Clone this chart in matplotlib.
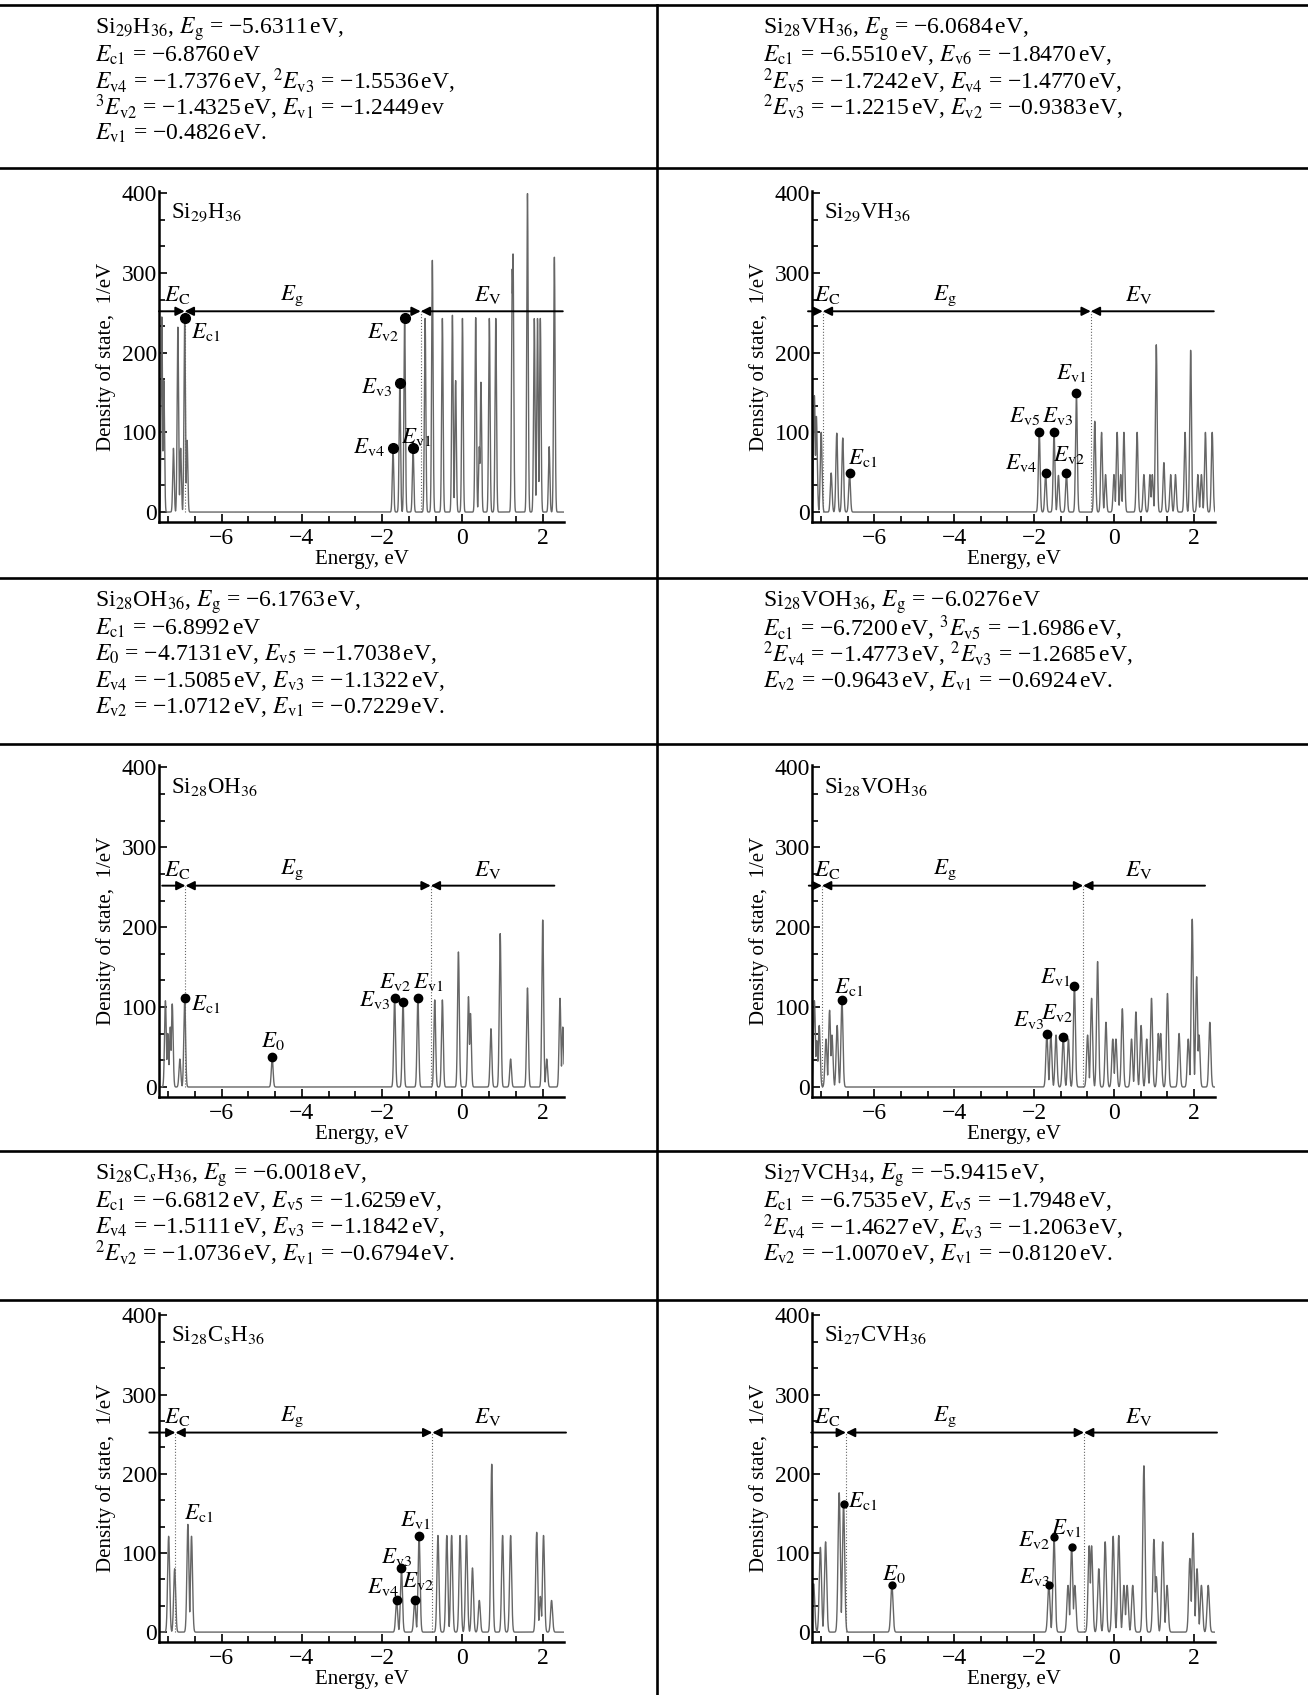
import numpy as np
import matplotlib.pyplot as plt
from matplotlib.ticker import MultipleLocator

plt.rcParams["font.family"] = ["Liberation Serif", "DejaVu Serif"]
plt.rcParams["mathtext.fontset"] = "stix"

# ─────────────────────────────────────────────────────────────
# Text cells (energies listed above each DOS plot)
# ─────────────────────────────────────────────────────────────
text_si29h36 = [
    r"Si$_{29}$H$_{36}$, $E_\mathrm{g}$ = −5.6311$\,$eV,",
    r"$E_\mathrm{c1}$ = −6.8760$\,$eV",
    r"$E_\mathrm{v4}$ = −1.7376$\,$eV, $^{2}E_\mathrm{v3}$ = −1.5536$\,$eV,",
    r"$^{3}E_\mathrm{v2}$ = −1.4325$\,$eV, $E_\mathrm{v1}$ = −1.2449$\,$ev",
    r"$E_\mathrm{v1}$ = −0.4826$\,$eV.",
]
text_si28vh36 = [
    r"Si$_{28}$VH$_{36}$, $E_\mathrm{g}$ = −6.0684$\,$eV,",
    r"$E_\mathrm{c1}$ = −6.5510$\,$eV, $E_\mathrm{v6}$ = −1.8470$\,$eV,",
    r"$^{2}E_\mathrm{v5}$ = −1.7242$\,$eV, $E_\mathrm{v4}$ = −1.4770$\,$eV,",
    r"$^{2}E_\mathrm{v3}$ = −1.2215$\,$eV, $E_\mathrm{v2}$ = −0.9383$\,$eV,",
]
text_si28oh36 = [
    r"Si$_{28}$OH$_{36}$, $E_\mathrm{g}$ = −6.1763$\,$eV,",
    r"$E_\mathrm{c1}$ = −6.8992$\,$eV",
    r"$E_0$ = −4.7131$\,$eV, $E_\mathrm{v5}$ = −1.7038$\,$eV,",
    r"$E_\mathrm{v4}$ = −1.5085$\,$eV, $E_\mathrm{v3}$ = −1.1322$\,$eV,",
    r"$E_\mathrm{v2}$ = −1.0712$\,$eV, $E_\mathrm{v1}$ = −0.7229$\,$eV.",
]
text_si28voh36 = [
    r"Si$_{28}$VOH$_{36}$, $E_\mathrm{g}$ = −6.0276$\,$eV",
    r"$E_\mathrm{c1}$ = −6.7200$\,$eV, $^{3}E_\mathrm{v5}$ = −1.6986$\,$eV,",
    r"$^{2}E_\mathrm{v4}$ = −1.4773$\,$eV, $^{2}E_\mathrm{v3}$ = −1.2685$\,$eV,",
    r"$E_\mathrm{v2}$ = −0.9643$\,$eV, $E_\mathrm{v1}$ = −0.6924$\,$eV.",
]
text_si28csh36 = [
    r"Si$_{28}$C$_{s}$H$_{36}$, $E_\mathrm{g}$ = −6.0018$\,$eV,",
    r"$E_\mathrm{c1}$ = −6.6812$\,$eV, $E_\mathrm{v5}$ = −1.6259$\,$eV,",
    r"$E_\mathrm{v4}$ = −1.5111$\,$eV, $E_\mathrm{v3}$ = −1.1842$\,$eV,",
    r"$^{2}E_\mathrm{v2}$ = −1.0736$\,$eV, $E_\mathrm{v1}$ = −0.6794$\,$eV.",
]
text_si27vch34 = [
    r"Si$_{27}$VCH$_{34}$, $E_\mathrm{g}$ = −5.9415$\,$eV,",
    r"$E_\mathrm{c1}$ = −6.7535$\,$eV, $E_\mathrm{v5}$ = −1.7948$\,$eV,",
    r"$^{2}E_\mathrm{v4}$ = −1.4627$\,$eV, $E_\mathrm{v3}$ = −1.2063$\,$eV,",
    r"$E_\mathrm{v2}$ = −1.0070$\,$eV, $E_\mathrm{v1}$ = −0.8120$\,$eV.",
]

# ─────────────────────────────────────────────────────────────
# DOS peaks (energy in eV, height in 1/eV)
# ─────────────────────────────────────────────────────────────
si29h36_peak_e = [-7.49, -7.44, -7.20, -7.09, -7.02, -6.92, -6.86,
                  -1.73, -1.56, -1.44, -1.23, -0.93, -0.75, -0.50, -0.25, -0.17,
                  0.00, 0.33, 0.42, 0.46, 0.67, 0.83, 1.24, 1.26, 1.62, 1.79,
                  1.87, 1.94, 2.16, 2.29]
si29h36_peak_h = [245, 165, 80, 232, 80, 240, 90,
                  80, 162, 244, 81, 243, 316, 243, 247, 165,
                  243, 244, 82, 163, 243, 243, 305, 324, 400, 243,
                  243, 243, 82, 320]

si28vh36_peak_e = [-7.50, -7.45, -7.33, -7.08, -6.94, -6.79, -6.62,
                   -1.87, -1.71, -1.50, -1.39, -1.19, -0.94,
                   -0.48, -0.31, -0.21, 0.00, 0.08, 0.17, 0.25, 0.58, 0.75,
                   0.90, 0.96, 1.06, 1.25, 1.42, 1.54, 1.78, 1.92, 2.10,
                   2.19, 2.29, 2.46]
si28vh36_peak_h = [146, 120, 100, 49, 99, 93, 49,
                   100, 49, 100, 46, 49, 150,
                   114, 100, 47, 47, 100, 47, 100, 100, 47,
                   47, 47, 210, 62, 47, 47, 100, 203, 47,
                   47, 100, 100]

si28oh36_peak_e = [-7.40, -7.34, -7.28, -7.23, -7.04, -6.92,
                   -4.74,
                   -1.69, -1.48, -1.11,
                   -0.69, -0.50, -0.10, 0.15, 0.20, 0.71, 0.94, 1.20, 1.62,
                   2.00, 2.10, 2.43, 2.50]
si28oh36_peak_h = [108, 67, 75, 104, 35, 113,
                   37,
                   111, 107, 111,
                   109, 109, 169, 113, 92, 73, 192, 35, 124,
                   209, 35, 111, 75]

si28voh36_peak_e = [-7.50, -7.44, -7.38, -7.21, -7.12, -7.06, -6.93, -6.81,
                    -1.68, -1.58, -1.45, -1.27, -1.14, -0.99,
                    -0.66, -0.56, -0.41, -0.20, -0.03, 0.05, 0.21, 0.44,
                    0.55, 0.68, 0.82, 0.94, 1.11, 1.17, 1.34, 1.63, 1.86,
                    1.96, 2.07, 2.13, 2.40]
si28voh36_peak_h = [108, 58, 77, 60, 96, 65, 77, 109,
                    66, 65, 65, 63, 60, 127,
                    65, 111, 157, 81, 60, 60, 98, 60,
                    94, 77, 60, 111, 67, 67, 117, 67, 60,
                    210, 138, 65, 81]

si28csh36_peak_e = [-7.32, -7.17, -6.84, -6.75,
                    -1.64, -1.52, -1.19, -1.08,
                    -0.61, -0.39, -0.27, -0.06, 0.10, 0.25, 0.42, 0.73,
                    1.00, 1.20, 1.85, 1.94, 2.02, 2.22]
si28csh36_peak_h = [121, 80, 136, 121,
                    40, 81, 40, 122,
                    122, 122, 122, 122, 122, 81, 40, 212,
                    122, 122, 126, 45, 122, 40]

si27cvh36_peak_e = [-7.52, -7.35, -7.22, -6.88, -6.77,
                    -5.56,
                    -1.63, -1.50, -1.15, -1.06, -0.98,
                    -0.62, -0.56, -0.38, -0.22, -0.02, 0.12, 0.25, 0.33,
                    0.47, 0.75, 1.00, 1.06, 1.22, 1.33, 1.90, 1.98, 2.08,
                    2.19, 2.36]
si27cvh36_peak_h = [61, 107, 114, 176, 162,
                    60,
                    60, 120, 59, 108, 59,
                    109, 109, 80, 114, 121, 122, 59, 59,
                    59, 210, 117, 70, 114, 59, 93, 125, 80,
                    59, 59]

# ─────────────────────────────────────────────────────────────
# Marked levels (dot energy, dot height, label)
# ─────────────────────────────────────────────────────────────
si29h36_dot_e = [-6.92, -1.44, -1.56, -1.73, -1.23]
si29h36_dot_h = [244, 244, 162, 81, 81]
si29h36_dot_lbl = ["c1", "v2", "v3", "v4", "v1"]

si28vh36_dot_e = [-6.62, -1.87, -1.71, -1.50, -1.19, -0.94]
si28vh36_dot_h = [49, 100, 49, 100, 49, 150]
si28vh36_dot_lbl = ["c1", "v5", "v4", "v3", "v2", "v1"]

si28oh36_dot_e = [-6.92, -4.74, -1.69, -1.48, -1.11]
si28oh36_dot_h = [111, 37, 111, 107, 111]
si28oh36_dot_lbl = ["c1", "0", "v3", "v2", "v1"]

si28voh36_dot_e = [-6.81, -1.68, -1.27, -0.99]
si28voh36_dot_h = [109, 66, 63, 127]
si28voh36_dot_lbl = ["c1", "v3", "v2", "v1"]

si28csh36_dot_e = [-1.64, -1.52, -1.19, -1.08]
si28csh36_dot_h = [40, 81, 40, 122]
si28csh36_dot_lbl = ["v4", "v3", "v2", "v1"]

si27cvh36_dot_e = [-6.77, -5.56, -1.63, -1.50, -1.06]
si27cvh36_dot_h = [162, 60, 60, 120, 108]
si27cvh36_dot_lbl = ["c1", "0", "v3", "v2", "v1"]

# band edges (E_C / E_g / E_V boundaries), eV
band_edges = [(-6.92, -1.04), (-7.29, -0.58), (-6.90, -0.79),
              (-7.31, -0.77), (-7.15, -0.75), (-6.71, -0.75)]

# ─────────────────────────────────────────────────────────────
# Layout (figure pixels) and label placement (data coords)
# ─────────────────────────────────────────────────────────────
W, H = 1308, 1695
col_x = [(159, 564), (812, 1215)]
row_y = [(191, 522), (765, 1097), (1313, 1642)]
text_x = [95, 763]
text_y0 = [29, 602, 1175]
line_step = 26.2

panels = [
    dict(title=r"Si$_{29}$H$_{36}$", pe=si29h36_peak_e, ph=si29h36_peak_h, width=0.018,
         de=si29h36_dot_e, dh=si29h36_dot_h, dl=si29h36_dot_lbl, ms=7,
         lpos=[(-6.40, 226), (-1.99, 226), (-2.15, 157), (-2.34, 82), (-1.15, 94)],
         line=(-7.56, 2.50)),
    dict(title=r"Si$_{29}$VH$_{36}$", pe=si28vh36_peak_e, ph=si28vh36_peak_h, width=0.022,
         de=si28vh36_dot_e, dh=si28vh36_dot_h, dl=si28vh36_dot_lbl, ms=6,
         lpos=[(-6.29, 68), (-2.24, 121), (-2.33, 61), (-1.41, 121), (-1.13, 72), (-1.07, 174)],
         line=(-7.66, 2.50)),
    dict(title=r"Si$_{28}$OH$_{36}$", pe=si28oh36_peak_e, ph=si28oh36_peak_h, width=0.022,
         de=si28oh36_dot_e, dh=si28oh36_dot_h, dl=si28oh36_dot_lbl, ms=6,
         lpos=[(-6.40, 104), (-4.72, 58), (-2.19, 109), (-1.69, 131), (-0.86, 131)],
         line=(-7.48, 2.29)),
    dict(title=r"Si$_{28}$VOH$_{36}$", pe=si28voh36_peak_e, ph=si28voh36_peak_h, width=0.025,
         de=si28voh36_dot_e, dh=si28voh36_dot_h, dl=si28voh36_dot_lbl, ms=6,
         lpos=[(-6.64, 125), (-2.14, 84), (-1.42, 93), (-1.46, 138)],
         line=(-7.64, 2.28)),
    dict(title=r"Si$_{28}$C$_\mathrm{s}$H$_{36}$", pe=si28csh36_peak_e, ph=si28csh36_peak_h, width=0.025,
         de=si28csh36_dot_e, dh=si28csh36_dot_h, dl=si28csh36_dot_lbl, ms=6,
         lpos=[(-1.98, 57), (-1.65, 95), (-1.10, 65), (-1.19, 141)],
         line=(-7.80, 2.58), extra=[("c1", -6.57, 150)]),
    dict(title=r"Si$_{27}$CVH$_{36}$", pe=si27cvh36_peak_e, ph=si27cvh36_peak_h, width=0.028,
         de=si27cvh36_dot_e, dh=si27cvh36_dot_h, dl=si27cvh36_dot_lbl, ms=5,
         lpos=[(-6.29, 166), (-5.50, 74), (-1.98, 69), (-2.01, 116), (-1.19, 131)],
         line=(-7.58, 2.58)),
]
cell_texts = [text_si29h36, text_si28vh36, text_si28oh36,
              text_si28voh36, text_si28csh36, text_si27vch34]

energy = np.linspace(-7.6, 2.6, 6000)


def dos_curve(peak_e, peak_h, width):
    e = np.asarray(peak_e)[:, None]
    h = np.asarray(peak_h)[:, None]
    return (h * np.exp(-0.5 * ((energy - e) / width) ** 2)).max(axis=0)


def sub_label(key):
    if key == "0":
        return r"$E_0$"
    return r"$E_\mathrm{%s}$" % key


# ─────────────────────────────────────────────────────────────
# Figure and table frame
# ─────────────────────────────────────────────────────────────
fig = plt.figure(figsize=(W / 100, H / 100), dpi=100)
bg = fig.add_axes([0, 0, 1, 1])
bg.set_xlim(0, W)
bg.set_ylim(H, 0)
bg.axis("off")

for y in [5, 168, 578, 744, 1151, 1300]:
    bg.plot([0, W], [y, y], color="k", lw=1.9)
bg.plot([657, 657], [5, H], color="k", lw=1.9)

for i, lines in enumerate(cell_texts):
    row, col = divmod(i, 2)
    for j, s in enumerate(lines):
        bg.text(text_x[col], text_y0[row] + j * line_step, s,
                fontsize=17, va="center", ha="left")

# ─────────────────────────────────────────────────────────────
# DOS panels
# ─────────────────────────────────────────────────────────────
for i, p in enumerate(panels):
    row, col = divmod(i, 2)
    x0, x1 = col_x[col]
    y0, y1 = row_y[row]
    ax = fig.add_axes([x0 / W, 1 - y1 / H, (x1 - x0) / W, (y1 - y0) / H])

    ax.plot(energy, dos_curve(p["pe"], p["ph"], p["width"]), color="0.4", lw=1.0)

    b1, b2 = band_edges[i]
    ax.plot([b1, b1], [0, 252], color="0.4", lw=0.8, ls=":")
    ax.plot([b2, b2], [0, 252], color="0.4", lw=0.8, ls=":")

    akw = dict(color="k", lw=1.4, shrinkA=0, shrinkB=0, mutation_scale=13)
    ax.annotate("", xy=(b1, 252), xytext=(p["line"][0], 252),
                arrowprops=dict(arrowstyle="-|>", **akw), annotation_clip=False)
    ax.annotate("", xy=(b2, 252), xytext=(b1, 252),
                arrowprops=dict(arrowstyle="<|-|>", **akw), annotation_clip=False)
    ax.annotate("", xy=(b2, 252), xytext=(p["line"][1], 252),
                arrowprops=dict(arrowstyle="-|>", **akw), annotation_clip=False)

    ax.text(-7.1 if col == 0 else -7.18, 272, r"$E_\mathrm{C}$", fontsize=16.5,
            ha="center", va="center")
    ax.text(-4.24, 272, r"$E_\mathrm{g}$", fontsize=16.5, ha="center", va="center")
    ax.text(0.62, 272, r"$E_\mathrm{V}$", fontsize=16.5, ha="center", va="center")

    ax.plot(p["de"], p["dh"], "o", color="k", ms=p["ms"])
    for lbl, (lx, ly) in zip(p["dl"], p["lpos"]):
        ax.text(lx, ly, sub_label(lbl), fontsize=16.5, ha="center", va="center")
    for lbl, lx, ly in p.get("extra", []):
        ax.text(lx, ly, sub_label(lbl), fontsize=16.5, ha="center", va="center")

    ax.text(-7.25, 375, p["title"], fontsize=16.5, ha="left", va="center")

    ax.set_xlim(-7.56, 2.53)
    ax.set_ylim(-12.5, 403)
    ax.xaxis.set_major_locator(MultipleLocator(2))
    ax.xaxis.set_minor_locator(MultipleLocator(2 / 3))
    ax.yaxis.set_major_locator(MultipleLocator(100))
    ax.yaxis.set_minor_locator(MultipleLocator(100 / 3))
    ax.xaxis.set_major_formatter(plt.FuncFormatter(lambda v, _: f"{v:g}".replace("-", "\u2212")))
    ax.tick_params(which="both", direction="in", width=1.2, labelsize=17)
    ax.tick_params(axis="x", pad=4)
    ax.tick_params(axis="y", pad=1.5)
    ax.tick_params(which="major", length=6)
    ax.tick_params(which="minor", length=4)
    for side in ("top", "right"):
        ax.spines[side].set_visible(False)
    for side in ("left", "bottom"):
        ax.spines[side].set_linewidth(1.8)
    ax.set_xlabel("Energy, eV", fontsize=15, labelpad=1)
    ax.set_ylabel("Density of state,  1/eV", fontsize=15, labelpad=4)

fig.savefig("out.png", dpi=100)
